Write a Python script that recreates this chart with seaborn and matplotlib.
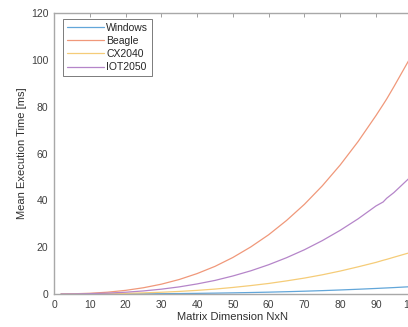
import matplotlib
matplotlib.use("Agg")
import matplotlib.pyplot as plt
import seaborn as sns
import pandas as pd

# ── data ─────────────────────────────────────────────────────────────────────
matrix_n = [2, 5, 10, 15, 20, 25, 30, 35, 40, 45, 50, 55, 60, 65, 70, 75, 80, 85, 90, 92, 93, 95, 100]
windows  = [0.0, 0.0, 0.01, 0.03, 0.05, 0.08, 0.13, 0.19, 0.27, 0.37, 0.49, 0.63, 0.79, 0.98, 1.2, 1.44, 1.72, 2.03, 2.37, 2.52, 2.59, 2.74, 3.15]
beagle   = [0.01, 0.07, 0.31, 0.78, 1.55, 2.67, 4.19, 6.19, 8.72, 11.8, 15.6, 20.1, 25.3, 31.4, 38.3, 46.2, 55.1, 65.1, 76.2, 80.9, 83.3, 88.5, 102.0]
cx2040   = [0.0, 0.01, 0.05, 0.14, 0.28, 0.48, 0.75, 1.1, 1.55, 2.1, 2.8, 3.6, 4.5, 5.6, 6.8, 8.2, 9.8, 11.6, 13.5, 14.4, 14.8, 15.7, 17.9]
iot2050  = [0.01, 0.03, 0.15, 0.38, 0.76, 1.31, 2.06, 3.04, 4.3, 5.8, 7.7, 9.9, 12.5, 15.5, 18.9, 22.8, 27.2, 32.1, 37.6, 39.3, 40.9, 43.3, 50.5]

series_names = ["Windows", "Beagle", "CX2040", "IOT2050"]
colors = ["#62a6d9", "#f0987a", "#f5cc78", "#b585c9"]

df = pd.DataFrame({
    "N": matrix_n * 4,
    "t": windows + beagle + cx2040 + iot2050,
    "device": sum([[name] * len(matrix_n) for name in series_names], []),
})

# ── plot ─────────────────────────────────────────────────────────────────────
sns.set_style("white")
plt.rcParams["font.family"] = ["Liberation Sans", "DejaVu Sans"]

fig = plt.figure(figsize=(4.08, 3.27), dpi=100)
# axes runs past the right edge, like the cropped original
ax = fig.add_axes([54 / 408, 1 - 294 / 327, (411.75 - 54) / 408, (294 - 13) / 327])

sns.lineplot(data=df, x="N", y="t", hue="device", palette=colors,
             hue_order=series_names, linewidth=0.9, ax=ax)

ax.set_xlim(0, 100)
ax.set_ylim(0, 120)
ax.set_xticks(range(0, 101, 10))
ax.set_yticks(range(0, 121, 20))
ax.set_xlabel("Matrix Dimension NxN", fontsize=8, color="#303030", labelpad=2)
ax.set_ylabel("Mean Execution Time [ms]", fontsize=8, color="#303030", labelpad=3)

for sp in ax.spines.values():
    sp.set_visible(True)
    sp.set_color("#a8a8a8")
    sp.set_linewidth(1.0)
ax.tick_params(direction="in", length=3, width=0.6, color="#909090",
               labelsize=7.5, labelcolor="#404040", top=True, right=True, pad=4)

leg = ax.legend(loc="upper left", fontsize=7.5, frameon=True, fancybox=False,
                borderpad=0.35, borderaxespad=0, handlelength=3.6,
                handletextpad=0.2, labelspacing=0.3,
                bbox_to_anchor=(0.025, 0.978))
leg.get_frame().set_edgecolor("#404040")
leg.get_frame().set_linewidth(0.6)
for line in leg.get_lines():
    line.set_linewidth(0.9)

plt.savefig("out.png", dpi=100)
plt.close()
